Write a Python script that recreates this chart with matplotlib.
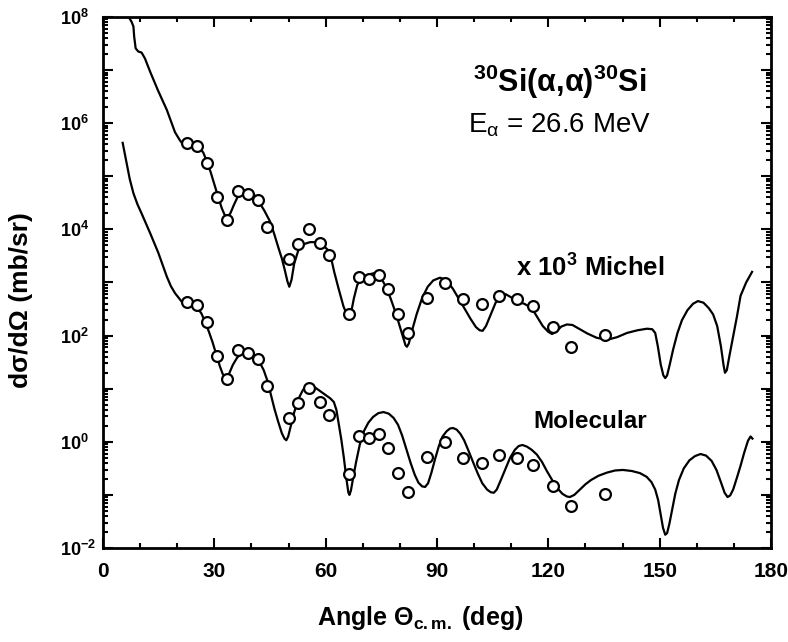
import numpy as np
import matplotlib
matplotlib.use("Agg")
import matplotlib.pyplot as plt
from matplotlib.ticker import LogLocator, NullFormatter, FixedLocator, MultipleLocator

plt.rcParams["font.family"] = ["Liberation Sans", "DejaVu Sans"]
plt.rcParams["mathtext.fontset"] = "custom"
plt.rcParams["mathtext.rm"] = "Liberation Sans"
plt.rcParams["mathtext.bf"] = "Liberation Sans:bold"
plt.rcParams["mathtext.it"] = "Liberation Sans:italic"

# ── Messdaten 30Si(a,a) bei 26.6 MeV (mb/sr, log10) ──────────────────────────
data_angle = [22.6, 25.3, 28.0, 30.8, 33.4, 36.3, 39.1, 41.8, 44.2, 50.0,
              52.6, 55.5, 58.4, 60.9, 66.4, 69.0, 71.7, 74.4, 76.8, 79.4,
              82.1, 87.3, 92.2, 97.0, 102.1, 106.7, 111.6, 115.9, 121.2,
              126.0, 135.3]
data_log10 = [2.63, 2.57, 2.25, 1.61, 1.18, 1.72, 1.67, 1.55, 1.05, 0.44,
              0.73, 1.01, 0.75, 0.51, -0.60, 0.11, 0.07, 0.14, -0.12, -0.59,
              -0.95, -0.29, -0.01, -0.31, -0.40, -0.25, -0.31, -0.44, -0.84,
              -1.21, -0.99]
michel_scale = 1e3

# ── Rechnung Michel (bereits x 10^3, log10) ──────────────────────────────────
michel_angle = [6.6, 7.1, 7.7, 8.2, 8.4, 8.8, 9.5, 10.4, 11.3, 12.7, 14.8,
                17.2, 19.4, 20.7, 22.1, 23.5, 25.0, 26.0, 27.0, 28.0, 29.0,
                30.0, 31.0, 32.0, 32.8, 33.5, 34.3, 35.2, 36.2, 37.3, 38.5,
                39.8, 41.0, 42.2, 43.5, 45.0, 46.2, 47.2, 48.2, 49.0, 49.7,
                50.2, 50.8, 51.5, 52.6, 54.0, 55.8, 57.5, 59.0, 60.5, 61.5,
                62.3, 63.5, 64.8, 65.8, 66.3, 66.9, 67.6, 68.5, 69.8, 71.5,
                73.3, 74.8, 76.0, 77.5, 79.0, 80.5, 81.5, 81.9, 82.4, 83.3,
                84.5, 86.0, 87.5, 89.0, 90.8, 92.5, 94.3, 96.0, 97.5, 99.0,
                100.5, 101.5, 102.3, 103.2, 104.5, 105.8, 107.2, 108.5, 110.0,
                111.6, 113.5, 115.5, 117.0, 118.5, 120.0, 121.0, 122.0, 123.5,
                125.0, 126.5, 128.5, 130.5, 133.0, 135.8, 138.5, 141.2, 144.0,
                146.6, 148.0, 148.8, 149.5, 150.3, 151.0, 151.5, 152.0, 152.7,
                153.6, 154.8, 156.0, 157.5, 159.0, 160.3, 161.8, 163.2, 164.4,
                165.5, 166.5, 167.2, 167.6, 168.1, 168.8, 169.8, 170.8, 171.8,
                173.3, 174.9]
michel_log10 = [8.4, 7.98, 7.91, 7.82, 7.63, 7.41, 7.35, 7.33, 7.22, 6.97, 6.62,
                6.25, 5.83, 5.68, 5.55, 5.55, 5.56, 5.53, 5.45, 5.28, 5.08,
                4.85, 4.62, 4.40, 4.27, 4.23, 4.30, 4.45, 4.60, 4.70, 4.74,
                4.72, 4.63, 4.50, 4.35, 4.15, 3.90, 3.67, 3.45, 3.23, 3.02,
                2.92, 3.05, 3.35, 3.60, 3.72, 3.76, 3.76, 3.72, 3.62, 3.45,
                3.20, 2.88, 2.55, 2.38, 2.35, 2.45, 2.70, 2.95, 3.10, 3.15,
                3.18, 3.10, 2.95, 2.70, 2.40, 2.05, 1.82, 1.79, 1.85, 2.10,
                2.40, 2.71, 2.92, 3.04, 3.09, 3.05, 2.88, 2.68, 2.50, 2.32,
                2.16, 2.10, 2.09, 2.18, 2.40, 2.62, 2.74, 2.78, 2.72,
                2.64, 2.60, 2.52, 2.35, 2.18, 2.07, 2.03, 2.07, 2.17,
                2.21, 2.20, 2.12, 2.04, 1.96, 1.92, 1.97, 2.05, 2.10,
                2.13, 2.12, 2.05, 1.80, 1.45, 1.25, 1.20, 1.25, 1.45,
                1.73, 2.05, 2.29, 2.48, 2.60, 2.65, 2.62, 2.52, 2.40,
                2.18, 1.80, 1.45, 1.30, 1.35, 1.62, 1.98, 2.35, 2.75,
                3.00, 3.20]

# ── Rechnung Molecular (log10) ───────────────────────────────────────────────
mol_angle = [5.3, 5.8, 6.4, 7.2, 8.2, 9.3, 10.4, 12.7, 14.9, 17.2, 18.3, 19.4,
             21.2, 22.6, 24.0, 25.3, 26.5, 27.5, 28.5, 29.5, 30.5, 31.5, 32.3,
             33.1, 33.9, 35.0, 36.1, 37.2, 38.3, 39.8, 41.0, 42.2, 43.3, 44.3,
             45.2, 46.2, 47.2, 48.2, 48.9, 49.4, 49.9, 50.6, 51.5, 52.6, 53.9,
             55.0, 55.8, 57.2, 58.6, 60.0, 61.2, 62.2, 62.9, 63.5, 64.2, 64.9,
             65.6, 66.1, 66.4, 66.8, 67.4, 68.2, 69.2, 70.3, 71.5, 72.8, 74.2,
             75.6, 77.0, 78.3, 79.5, 80.6, 81.7, 82.9, 84.0, 85.0, 86.0, 86.8,
             87.6, 88.5, 89.5, 90.5, 91.5, 92.6, 93.5, 94.3, 95.3, 96.3, 97.3,
             98.5, 99.7, 101.0, 102.2, 103.5, 104.5, 105.3, 106.1, 107.2,
             108.5, 109.7, 111.0, 112.0, 113.0, 114.2, 115.5, 116.9, 118.3,
             119.6, 121.2, 122.5, 123.8, 125.0, 125.8, 127.0, 128.5, 130.0,
             131.5, 133.5, 135.8, 138.0, 140.1, 142.5, 144.7, 146.5, 147.8,
             148.8, 149.6, 150.3, 150.9, 151.5, 152.0, 152.6, 153.3, 154.2,
             155.2, 156.5, 158.0, 159.5, 161.0, 162.5, 164.0, 165.3, 166.5,
             167.5, 168.3, 169.0, 169.8, 170.8, 171.8, 172.8, 173.8, 174.5,
             175.0]
mol_log10 = [5.63, 5.45, 5.24, 4.95, 4.68, 4.47, 4.30, 3.93, 3.56, 3.11, 2.93,
             2.80, 2.64, 2.60, 2.57, 2.53, 2.42, 2.26, 2.08, 1.88, 1.65, 1.42,
             1.27, 1.22, 1.27, 1.45, 1.58, 1.66, 1.69, 1.66, 1.60, 1.50, 1.35,
             1.15, 0.90, 0.62, 0.38, 0.16, 0.06, 0.03, 0.10, 0.30, 0.55, 0.80,
             0.98, 1.05, 1.07, 1.02, 0.95, 0.88, 0.82, 0.75, 0.60, 0.35, 0.05,
             -0.30, -0.70, -0.95, -1.0, -0.92, -0.68, -0.38, -0.05, 0.20, 0.36,
             0.47, 0.54, 0.56, 0.53, 0.45, 0.32, 0.12, -0.13, -0.40, -0.62,
             -0.77, -0.84, -0.85, -0.78, -0.58, -0.32, -0.08, 0.10, 0.20, 0.25,
             0.26, 0.23, 0.15, 0.03, -0.17, -0.38, -0.60, -0.78, -0.90, -0.95,
             -0.96, -0.90, -0.72, -0.50, -0.30, -0.15, -0.08, -0.06, -0.09,
             -0.15, -0.24, -0.38, -0.55, -0.74, -0.88, -0.98, -1.03, -1.04,
             -1.00, -0.90, -0.80, -0.72, -0.64, -0.58, -0.54, -0.53, -0.55,
             -0.59, -0.66, -0.76, -0.90, -1.10, -1.38, -1.62, -1.75, -1.72,
             -1.55, -1.30, -0.98, -0.72, -0.50, -0.35, -0.27, -0.23, -0.26,
             -0.36, -0.53, -0.76, -0.96, -1.04, -1.01, -0.90, -0.68, -0.45,
             -0.20, 0.02, 0.10, 0.06]

x_ticks = [0, 30, 60, 90, 120, 150, 180]
y_decades = list(range(-2, 9))
y_labelled = [-2, 0, 2, 4, 6, 8]

# ── Plot ─────────────────────────────────────────────────────────────────────
fig = plt.figure(figsize=(7.88, 6.42), dpi=100)
ax = fig.add_axes([103 / 788, 1 - 548 / 642, 668 / 788, 531 / 642])

data_y = 10 ** np.array(data_log10)
ax.plot(michel_angle, 10 ** np.array(michel_log10), color="black", lw=1.6)
ax.plot(mol_angle, 10 ** np.array(mol_log10), color="black", lw=1.6)
for scale in (michel_scale, 1.0):
    ax.plot(data_angle, data_y * scale, "o", ms=7.8, mfc="white",
            mec="black", mew=1.6, zorder=3)

ax.set_yscale("log")
ax.set_xlim(0, 180)
ax.set_ylim(1e-2, 1e8)

ax.set_xticks(x_ticks)
ax.set_xticklabels([str(t) for t in x_ticks], fontsize=15, fontweight="bold")
ax.xaxis.set_minor_locator(MultipleLocator(10))

# jede Dekade ein langer Strich, beschriftet nur die geraden
ax.yaxis.set_major_locator(FixedLocator([10.0 ** e for e in y_decades]))
ax.set_yticklabels([r"$\mathbf{10^{%d}}$" % e if e in y_labelled else ""
                    for e in y_decades], fontsize=13)
ax.yaxis.set_minor_locator(LogLocator(base=10, subs=np.arange(2, 10), numticks=50))
ax.yaxis.set_minor_formatter(NullFormatter())
for lab in ax.get_yticklabels():
    lab.set_horizontalalignment("left")

ax.tick_params(which="both", direction="in", top=True, right=True, width=1.5)
ax.tick_params(which="major", length=7.2)
ax.tick_params(which="minor", length=3.5)
ax.tick_params(axis="x", pad=10)
ax.tick_params(axis="y", pad=31)
for s in ax.spines.values():
    s.set_linewidth(2)

ax.set_xlabel(r"Angle $\mathbf{\Theta_{c.m.}}$ (deg)", fontsize=18,
              fontweight="bold")
ax.xaxis.set_label_coords(0.475, -0.105)
ax.set_ylabel("dσ/dΩ (mb/sr)", fontsize=19, fontweight="bold")
ax.yaxis.set_label_coords(-0.105, 0.467)

ax.text(0.684, 0.878, r"$\mathbf{^{30}Si(α{,}α)^{30}Si}$",
        transform=ax.transAxes, ha="center", va="center", fontsize=22)
ax.text(0.684, 0.797, r"E$_{\mathrm{α}}$ = 26.6 MeV", transform=ax.transAxes,
        ha="center", va="center", fontsize=20)
ax.text(0.729, 0.527, r"x 10$^{\mathbf{3}}$ Michel", transform=ax.transAxes,
        ha="center", va="center", fontsize=18.5, fontweight="bold")
ax.text(0.729, 0.239, "Molecular", transform=ax.transAxes,
        ha="center", va="center", fontsize=17.5, fontweight="bold")

plt.savefig("out.png", dpi=100)
